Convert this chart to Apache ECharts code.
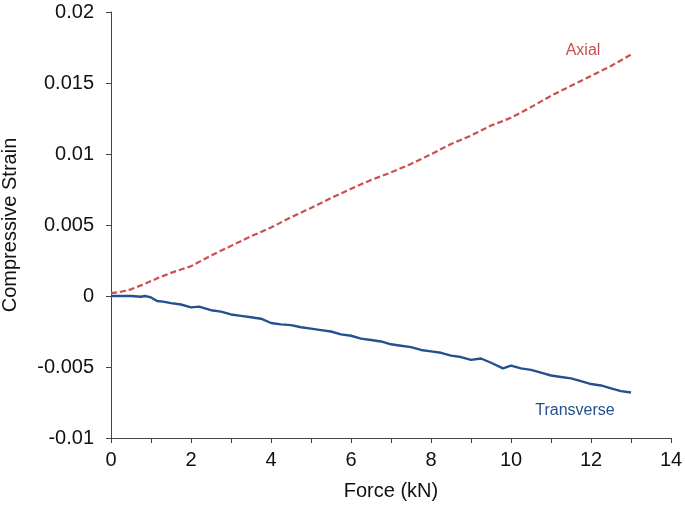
<!DOCTYPE html>
<html>
<head>
<meta charset="utf-8">
<script src="https://cdn.jsdelivr.net/npm/echarts@6/dist/echarts.min.js"></script>
<style>
html,body{margin:0;padding:0;background:#fff;}
#c{width:685px;height:506px;}
</style>
</head>
<body>
<div id="c"></div>
<script>
// Axial strain (dashed red)
const axialForce = [0,0.25,0.5,0.85,1.2,1.5,2,2.5,3,3.5,4,4.5,5,5.5,6,6.5,7,7.5,8,8.5,9,9.5,10,10.5,11,11.5,12,12.5,13];
const axialStrain = [0.0002,0.0003,0.00047,0.00086,0.0013,0.00163,0.0021,0.00285,0.00353,0.0042,0.00482,0.00555,0.0062,0.0069,0.00755,0.00817,0.0087,0.0093,0.00998,0.0107,0.0113,0.0120,0.01255,0.0133,0.0141,0.0148,0.0155,0.0162,0.0170];
// Transverse strain (solid blue)
const transForce = [0,0.25,0.5,0.75,0.85,1.0,1.15,1.3,1.5,1.75,2.0,2.2,2.5,2.75,3.0,3.25,3.5,3.75,4.0,4.25,4.5,4.75,5.0,5.25,5.5,5.75,6.0,6.25,6.5,6.75,7.0,7.25,7.5,7.75,8.0,8.25,8.5,8.75,9.0,9.25,9.5,9.8,10.0,10.25,10.5,10.75,11.0,11.25,11.5,11.75,12.0,12.25,12.5,12.75,13.0];
const transStrain = [0,0,0,-0.00005,0,-0.0001,-0.00035,-0.0004,-0.0005,-0.0006,-0.0008,-0.00075,-0.001,-0.0011,-0.0013,-0.0014,-0.0015,-0.0016,-0.0019,-0.002,-0.00205,-0.0022,-0.0023,-0.0024,-0.0025,-0.0027,-0.0028,-0.003,-0.0031,-0.0032,-0.0034,-0.0035,-0.0036,-0.0038,-0.0039,-0.004,-0.0042,-0.0043,-0.0045,-0.0044,-0.0047,-0.0051,-0.0049,-0.0051,-0.0052,-0.0054,-0.0056,-0.0057,-0.0058,-0.006,-0.0062,-0.0063,-0.0065,-0.0067,-0.0068];
// Series label anchors (data coordinates)
const seriesNames = ['Axial','Transverse'];
const labelAnchors = [[11.8,0.0173],[11.6,-0.0081]];
const xTickLabels = [0,2,4,6,8,10,12,14];
const yTickLabels = ['-0.01','-0.005','0','0.005','0.01','0.015','0.02'];

const RED = '#c9504f', BLUE = '#25508f', AXIS = '#444444';
const FONT = '"Liberation Sans", Arial, sans-serif';

const chart = echarts.init(document.getElementById('c'), null, {renderer:'canvas'});
const option = {
  animation:false,
  backgroundColor:'#fff',
  grid:{left:111,right:14,top:12,bottom:68,containLabel:false,outerBoundsMode:'none'},
  xAxis:{
    type:'value',min:0,max:14,interval:1,
    name:'Force (kN)',nameLocation:'middle',nameGap:43,
    nameTextStyle:{fontFamily:FONT,fontSize:20,color:'#111'},
    axisLine:{onZero:false,lineStyle:{color:AXIS,width:1}},
    axisTick:{show:true,inside:false,length:5,lineStyle:{color:AXIS}},
    axisLabel:{margin:12,fontFamily:FONT,fontSize:20,color:'#111',
      formatter:v=>xTickLabels.indexOf(Math.round(v))>=0 && Math.abs(v-Math.round(v))<1e-9 ? String(Math.round(v)) : ''},
    splitLine:{show:false}
  },
  yAxis:{
    type:'value',min:-0.01,max:0.02,interval:0.005,
    name:'Compressive Strain',nameLocation:'middle',nameGap:91,nameRotate:90,
    nameTextStyle:{fontFamily:FONT,fontSize:20,color:'#111'},
    axisLine:{show:true,onZero:false,lineStyle:{color:AXIS,width:1}},
    axisTick:{show:true,inside:false,length:5,lineStyle:{color:AXIS}},
    axisLabel:{margin:17,fontFamily:FONT,fontSize:20,color:'#111',
      formatter:v=>{const s=String(parseFloat(v.toFixed(4)));return yTickLabels.indexOf(s)>=0?s:'';}},
    splitLine:{show:false}
  },
  series:[
    {name:seriesNames[0],type:'line',showSymbol:false,symbol:'none',
     data:axialForce.map((x,i)=>[x,axialStrain[i]]),
     lineStyle:{color:RED,width:2.2,type:[6,3]}},
    {name:seriesNames[1],type:'line',showSymbol:false,symbol:'none',
     data:transForce.map((x,i)=>[x,transStrain[i]]),
     lineStyle:{color:BLUE,width:2.4}}
  ]
};
chart.setOption(option);
const colors=[RED,BLUE];
const graphics = labelAnchors.map((a,i)=>{
  const p = chart.convertToPixel({gridIndex:0}, a);
  return {type:'text',x:p[0],y:p[1],style:{text:seriesNames[i],fill:colors[i],
    font:'16px '+FONT,textAlign:'center',textVerticalAlign:'middle'}};
});
chart.setOption({graphic:graphics});
</script>
</body>
</html>
